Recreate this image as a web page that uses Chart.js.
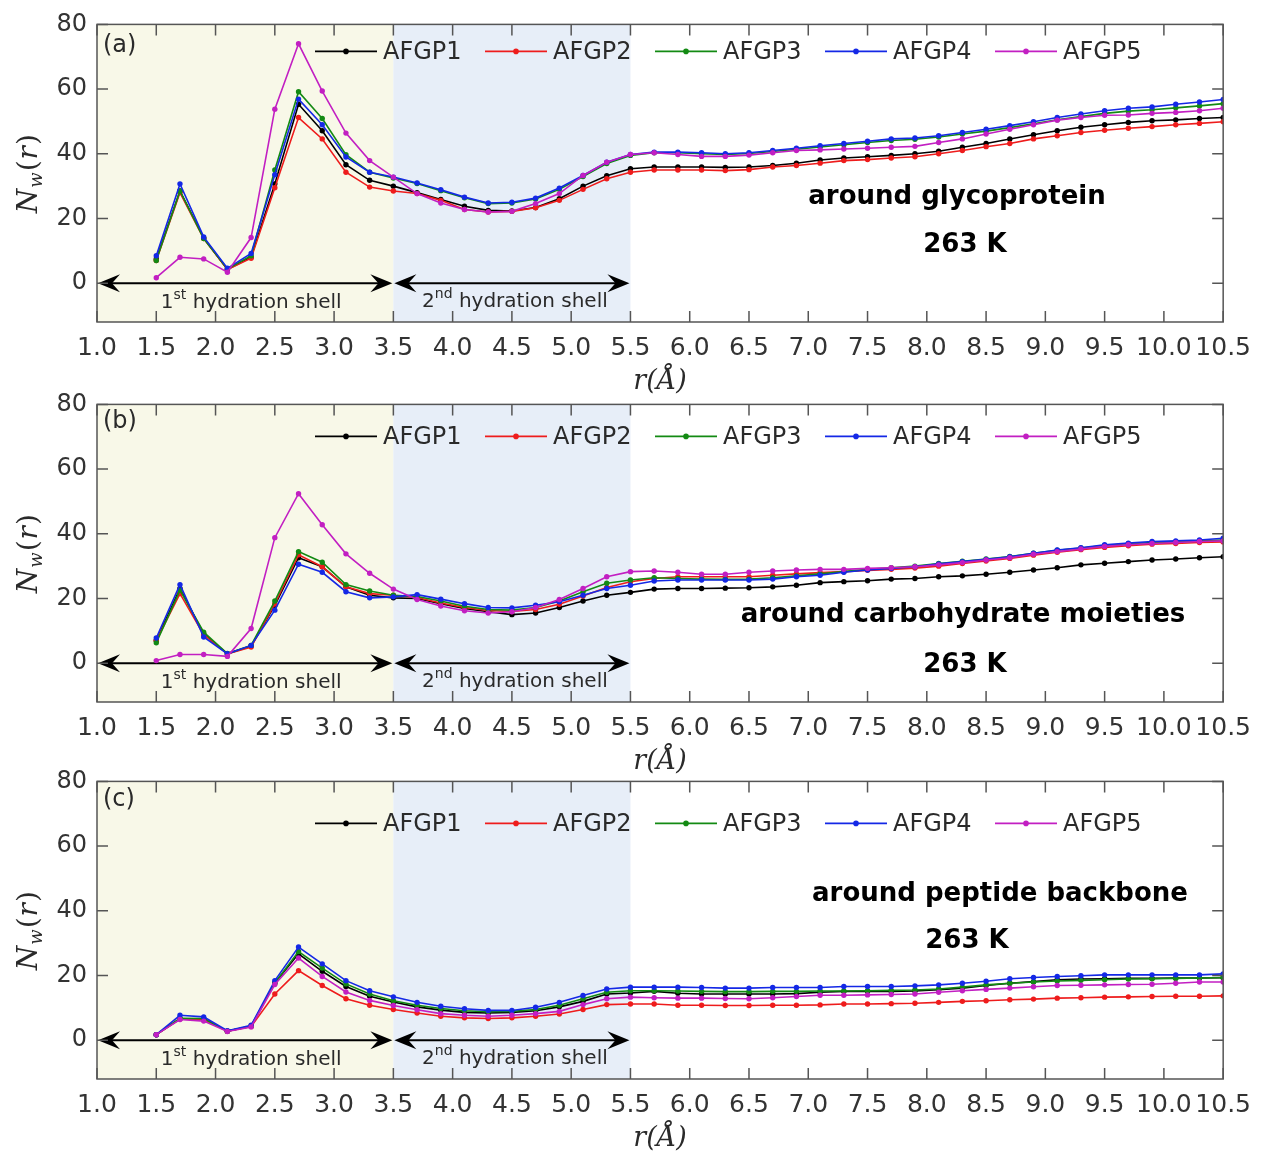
<!DOCTYPE html>
<html>
<head>
<meta charset="utf-8">
<title>Nw(r) around AFGP</title>
<script src="https://cdn.jsdelivr.net/npm/chart.js@4.4.1/dist/chart.umd.min.js"></script>
<style>
    body { margin: 0; background: #fff; }
    #wrap { position: relative; width: 1262px; height: 1156px; overflow: hidden; }
    .panel { position: absolute; left: 0; width: 1262px; height: 400px; }
    .panel canvas { display: block; }
</style>
</head>
<body>
<div id="wrap">
    <div class="panel" style="top:0px"><canvas id="chartA" width="1262" height="400"></canvas></div>
    <div class="panel" style="top:380px"><canvas id="chartB" width="1262" height="400"></canvas></div>
    <div class="panel" style="top:757px"><canvas id="chartC" width="1262" height="400"></canvas></div>
</div>
<script>
// distance r (Angstrom) of every sampled point
const rValues = [1.5, 1.7, 1.9, 2.1, 2.3, 2.5, 2.7, 2.9, 3.1, 3.3, 3.5, 3.7, 3.9, 4.1, 4.3, 4.5,
    4.7, 4.9, 5.1, 5.3, 5.5, 5.7, 5.9, 6.1, 6.3, 6.5, 6.7, 6.9, 7.1, 7.3, 7.5, 7.7, 7.9, 8.1,
    8.3, 8.5, 8.7, 8.9, 9.1, 9.3, 9.5, 9.7, 9.9, 10.1, 10.3, 10.5];

const xTicks = [1.0, 1.5, 2.0, 2.5, 3.0, 3.5, 4.0, 4.5, 5.0, 5.5, 6.0, 6.5, 7.0, 7.5, 8.0, 8.5, 9.0, 9.5, 10.0, 10.5];
const yTicks = [0, 20, 40, 60, 80];
const shellEdges = [1.0, 3.5, 5.5];
const seriesNames = ['AFGP1', 'AFGP2', 'AFGP3', 'AFGP4', 'AFGP5'];

// (a) around glycoprotein
const glycoAFGP1 = [7.5, 28.5, 14, 4.2, 8, 30.7, 55.3, 47.1, 36.6, 31.8, 30, 28, 25.9, 23.8, 22.5, 22.3,
    23.4, 26.1, 30, 33.2, 35.4, 35.9, 35.9, 35.9, 35.8, 35.9, 36.4, 37.1, 38.1, 38.7, 39.1, 39.5, 40, 40.8,
    42, 43.2, 44.6, 45.9, 47.1, 48.2, 49, 49.7, 50.2, 50.5, 50.9, 51.2];
const glycoAFGP2 = [7, 28, 13.8, 4.2, 7.7, 29.5, 51.2, 44.6, 34.3, 29.7, 28.5, 27.7, 25.6, 22.8, 22, 22.2,
    23.3, 25.6, 29, 32.3, 34.3, 35, 35, 35, 34.8, 35.1, 35.9, 36.4, 37.1, 37.9, 38.2, 38.7, 39.1, 40,
    41, 42.2, 43.2, 44.6, 45.6, 46.6, 47.3, 47.9, 48.4, 49, 49.4, 49.9];
const glycoAFGP3 = [7, 28.5, 13.8, 4.4, 8.5, 35, 59.2, 50.9, 39.7, 34.3, 32.5, 30.8, 28.6, 26.4, 24.6, 24.8,
    26, 29, 33, 37, 39.5, 40.3, 40.3, 40, 39.8, 40.1, 40.7, 41.4, 42.1, 42.8, 43.5, 44.1, 44.5, 45.2,
    46.1, 47, 48.1, 49.3, 50.5, 51.5, 52.5, 53.2, 53.6, 54.2, 54.8, 55.5];
const glycoAFGP4 = [8.5, 30.7, 14.3, 4.6, 9.2, 33.5, 56.9, 49, 39, 34.3, 32.8, 31, 28.9, 26.6, 24.8, 25,
    26.3, 29.4, 33.3, 37.4, 39.8, 40.5, 40.5, 40.3, 40, 40.3, 41, 41.7, 42.5, 43.2, 43.9, 44.6, 44.9, 45.6,
    46.6, 47.6, 48.7, 49.9, 51.2, 52.3, 53.3, 54.1, 54.5, 55.3, 56, 56.8];
const glycoAFGP5 = [1.7, 8, 7.5, 3.4, 14.1, 53.8, 74, 59.4, 46.4, 37.9, 32.8, 27.7, 24.8, 22.8, 22, 22.2,
    24.6, 27.7, 33.3, 37.4, 39.8, 40.3, 39.8, 39.2, 39.2, 39.6, 40.3, 41, 41.2, 41.5, 41.7, 42, 42.3, 43.5,
    44.6, 46.1, 47.6, 49, 50.4, 51.2, 51.9, 52, 52.5, 52.8, 53.3, 54.1];

// (b) around carbohydrate moieties
const carbAFGP1 = [7, 23.1, 9, 2.9, 5.3, 17.9, 32.6, 29.8, 23.6, 21, 20.2, 20, 18.4, 16.9, 15.9, 15,
    15.5, 17.2, 19.2, 21, 21.9, 22.9, 23.1, 23.1, 23.2, 23.3, 23.6, 24.1, 24.9, 25.2, 25.5, 26, 26.2, 26.7,
    27, 27.5, 28.1, 28.8, 29.5, 30.4, 30.9, 31.4, 31.9, 32.2, 32.6, 32.9];
const carbAFGP2 = [7, 21.5, 8.8, 2.9, 5, 18.3, 33.5, 29.8, 23.6, 21.5, 21, 20.3, 18.6, 17.2, 16.3, 16,
    16.6, 18.2, 20.8, 23.4, 25.2, 26.2, 26.7, 26.7, 26.7, 26.7, 27.2, 27.6, 28, 28.3, 28.7, 29, 29.4, 30,
    30.8, 31.6, 32.4, 33.4, 34.3, 35.1, 35.8, 36.3, 36.8, 37, 37.3, 37.5];
const carbAFGP3 = [6.3, 22.6, 9.6, 3, 5.5, 19.2, 34.5, 31.2, 24.3, 22.3, 21, 20.6, 19.2, 17.6, 16.6, 16.4,
    17.2, 19.2, 22.1, 24.7, 25.7, 26.4, 26.2, 26, 25.9, 26, 26.4, 27, 27.6, 28.3, 29, 29.5, 30, 30.8,
    31.5, 32.2, 33, 34, 34.9, 35.6, 36.4, 36.9, 37.3, 37.5, 37.8, 38.1];
const carbAFGP4 = [7.8, 24.3, 8.1, 2.9, 5.5, 16.4, 30.6, 28.1, 22.1, 20.2, 20.5, 21.2, 19.8, 18.4, 17.2, 17.1,
    17.9, 19, 21, 23.1, 24.1, 25.4, 25.7, 25.7, 25.7, 25.7, 26, 26.7, 27.2, 28.1, 28.8, 29.3, 29.8, 30.7,
    31.4, 32.1, 32.9, 34, 35, 35.7, 36.6, 37.1, 37.6, 37.8, 38.1, 38.6];
const carbAFGP5 = [0.8, 2.7, 2.7, 2.1, 10.7, 38.8, 52.4, 42.8, 33.8, 27.8, 22.9, 19.7, 17.7, 16.2, 15.5, 15.9,
    17.2, 19.7, 23.1, 26.7, 28.3, 28.5, 28.1, 27.5, 27.5, 28.1, 28.5, 28.8, 29, 29, 29.3, 29.5, 29.8, 30.4,
    31.1, 31.9, 32.6, 33.7, 34.5, 35.3, 36.1, 36.6, 37, 37.3, 37.6, 37.8];

// (c) around peptide backbone
const peptAFGP1 = [1.7, 6.6, 6.6, 2.8, 4.3, 17.7, 26.7, 21.3, 16.6, 13.6, 11.8, 10.3, 9.3, 8.6, 8.4, 8.6,
    9.1, 10.3, 12, 14.3, 14.6, 15.1, 14.5, 14.3, 14.3, 14.3, 14.3, 14.4, 14.8, 15.1, 15.1, 15.1, 15.2, 15.6,
    16.1, 16.9, 17.6, 18.1, 18.7, 18.9, 19, 19.1, 19.1, 19.2, 19.2, 19.3];
const peptAFGP2 = [1.7, 6.6, 6.4, 2.8, 4.2, 14.3, 21.5, 16.9, 12.8, 10.8, 9.5, 8.4, 7.4, 6.9, 6.7, 6.9,
    7.4, 8.1, 9.5, 11, 11.2, 11.2, 10.8, 10.8, 10.7, 10.7, 10.8, 10.8, 10.9, 11.2, 11.2, 11.3, 11.4, 11.7,
    12, 12.2, 12.5, 12.7, 13, 13.1, 13.3, 13.4, 13.5, 13.6, 13.6, 13.7];
const peptAFGP3 = [1.7, 6.8, 6.7, 2.8, 4.4, 17.7, 27.4, 22.3, 17.4, 14.3, 12.2, 10.8, 9.8, 9.1, 8.8, 8.9,
    9.5, 10.8, 12.8, 14.8, 15.3, 15.3, 15.2, 15.1, 15, 15, 15.1, 15.1, 15.2, 15.2, 15.3, 15.4, 15.5, 15.8,
    16.4, 17.1, 17.6, 18, 18.3, 18.5, 18.7, 18.9, 19, 19.1, 19.2, 19.4];
const peptAFGP4 = [1.7, 7.7, 7.2, 2.9, 4.6, 18.4, 28.8, 23.6, 18.4, 15.3, 13.4, 11.7, 10.5, 9.7, 9.2, 9.2,
    10.2, 11.7, 13.8, 15.8, 16.4, 16.4, 16.4, 16.3, 16.1, 16.1, 16.3, 16.3, 16.3, 16.6, 16.6, 16.6, 16.8, 17.1,
    17.6, 18.2, 19, 19.4, 19.7, 19.9, 20.2, 20.2, 20.2, 20.2, 20.2, 20.5];
const peptAFGP5 = [1.7, 6.4, 5.9, 2.7, 4.1, 17.2, 25.4, 19.7, 14.9, 12.3, 10.7, 9.4, 8.2, 7.7, 7.4, 7.7,
    8.2, 8.9, 11, 12.8, 13.3, 13.1, 13, 13, 12.9, 12.8, 13.1, 13.5, 13.9, 13.9, 14, 14.1, 14.3, 14.8,
    15.3, 15.7, 16.1, 16.5, 16.9, 17, 17.1, 17.2, 17.3, 17.6, 18, 18];

const seriesColors = ['#000000', '#ee1c1c', '#138a13', '#1428e6', '#c21fc2'];
const shellFills = ['#f8f8e8', '#e7eef8'];
const textColor = '#2a2a2a';

Chart.defaults.font.family = 'DejaVu Sans';
Chart.defaults.color = textColor;

function drawArrowHead(ctx, tipX, y, dir) {
    // stealth-like head, dir = -1 points left, +1 points right
    ctx.beginPath();
    ctx.moveTo(tipX, y);
    ctx.lineTo(tipX - dir * 22, y - 9);
    ctx.lineTo(tipX - dir * 14, y);
    ctx.lineTo(tipX - dir * 22, y + 9);
    ctx.closePath();
    ctx.fill();
}

function drawShellLabel(ctx, cx, cy, num, sup) {
    const big = '20px DejaVu Sans', small = '14px DejaVu Sans';
    const rest = ' hydration shell';
    ctx.font = big;
    const wNum = ctx.measureText(num).width, wRest = ctx.measureText(rest).width;
    ctx.font = small;
    const wSup = ctx.measureText(sup).width;
    let x = cx - (wNum + wSup + wRest) / 2;
    ctx.textBaseline = 'middle';
    ctx.textAlign = 'left';
    ctx.font = big;
    ctx.fillText(num, x, cy);
    x += wNum;
    ctx.font = small;
    ctx.fillText(sup, x, cy - 8);
    x += wSup;
    ctx.font = big;
    ctx.fillText(rest, x, cy);
}

const panelDecor = {
    id: 'panelDecor',
    beforeDatasetsDraw(chart) {
        const {ctx, chartArea: a, scales: {x, y}} = chart;
        ctx.save();
        // hydration shell bands
        for (let i = 0; i < shellEdges.length - 1; i++) {
            const x0 = x.getPixelForValue(shellEdges[i]);
            const x1 = x.getPixelForValue(shellEdges[i + 1]);
            ctx.fillStyle = shellFills[i];
            ctx.fillRect(x0, a.top, x1 - x0, a.bottom - a.top);
        }
        // double arrows on the zero line
        const y0 = y.getPixelForValue(0);
        ctx.strokeStyle = '#000';
        ctx.fillStyle = '#000';
        ctx.lineWidth = 2;
        for (let i = 0; i < shellEdges.length - 1; i++) {
            const x0 = x.getPixelForValue(shellEdges[i]);
            const x1 = x.getPixelForValue(shellEdges[i + 1]);
            ctx.beginPath();
            ctx.moveTo(x0 + 14, y0);
            ctx.lineTo(x1 - 14, y0);
            ctx.stroke();
            drawArrowHead(ctx, x0 + 1, y0, -1);
            drawArrowHead(ctx, x1 - 1, y0, 1);
        }
        ctx.fillStyle = textColor;
        const m1 = (x.getPixelForValue(shellEdges[0]) + x.getPixelForValue(shellEdges[1])) / 2;
        const m2 = (x.getPixelForValue(shellEdges[1]) + x.getPixelForValue(shellEdges[2])) / 2;
        drawShellLabel(ctx, m1 + 6, y0 + 20, '1', 'st');
        drawShellLabel(ctx, m2 + 3, y0 + 19, '2', 'nd');
        ctx.restore();
    },
    afterDraw(chart, args, opts) {
        const {ctx, chartArea: a, scales: {x, y}} = chart;
        ctx.save();
        // frame and inward ticks
        ctx.strokeStyle = '#555';
        ctx.lineWidth = 1.5;
        ctx.strokeRect(a.left, a.top, a.right - a.left, a.bottom - a.top);
        ctx.beginPath();
        x.ticks.forEach(t => {
            const px = x.getPixelForValue(t.value);
            ctx.moveTo(px, a.top); ctx.lineTo(px, a.top + 11);
            ctx.moveTo(px, a.bottom); ctx.lineTo(px, a.bottom - 11);
        });
        y.ticks.forEach(t => {
            const py = y.getPixelForValue(t.value);
            ctx.moveTo(a.left, py); ctx.lineTo(a.left + 11, py);
            ctx.moveTo(a.right, py); ctx.lineTo(a.right - 11, py);
        });
        ctx.stroke();

        // legend inside the plot
        const ly = a.top + opts.legendDy;
        chart.data.datasets.forEach((ds, i) => {
            const lx = 315 + i * 170;
            ctx.strokeStyle = ds.borderColor;
            ctx.fillStyle = ds.borderColor;
            ctx.lineWidth = 1.6;
            ctx.beginPath();
            ctx.moveTo(lx, ly); ctx.lineTo(lx + 62, ly);
            ctx.stroke();
            ctx.beginPath();
            ctx.arc(lx + 31, ly, 2.8, 0, Math.PI * 2);
            ctx.fill();
            ctx.fillStyle = textColor;
            ctx.font = '24px DejaVu Sans';
            ctx.textAlign = 'left';
            ctx.textBaseline = 'middle';
            ctx.fillText(ds.label, lx + 68, ly + 1);
        });

        // panel letter
        ctx.fillStyle = textColor;
        ctx.font = '24px DejaVu Sans';
        ctx.textAlign = 'left';
        ctx.textBaseline = 'middle';
        ctx.fillText(opts.letter, a.left + 6, a.top + opts.letterDy);

        // region / temperature notes
        ctx.fillStyle = '#000';
        ctx.font = 'bold 26px DejaVu Sans';
        ctx.textAlign = 'center';
        opts.notes.forEach(n => ctx.fillText(n.text, n.x, n.y));

        // y title N_w(r)
        ctx.translate(30, (a.top + a.bottom) / 2);
        ctx.rotate(-Math.PI / 2);
        const parts = [
            {t: 'N', f: 'italic 28px DejaVu Serif', dy: 0},
            {t: 'w', f: 'italic 18px DejaVu Serif', dy: 7},
            {t: '(', f: '28px DejaVu Serif', dy: 0},
            {t: 'r', f: 'italic 28px DejaVu Serif', dy: 0},
            {t: ')', f: '28px DejaVu Serif', dy: 0}
        ];
        let total = 0;
        parts.forEach(p => { ctx.font = p.f; p.w = ctx.measureText(p.t).width + 1; total += p.w; });
        let tx = -total / 2;
        ctx.fillStyle = textColor;
        ctx.textAlign = 'left';
        ctx.textBaseline = 'middle';
        parts.forEach(p => { ctx.font = p.f; ctx.fillText(p.t, tx, p.dy); tx += p.w; });
        ctx.restore();
    }
};

function makePanel(canvasId, series, letter, letterDy, legendDy, notes) {
    new Chart(document.getElementById(canvasId), {
        type: 'line',
        data: {
            datasets: series.map((vals, i) => ({
                label: seriesNames[i],
                data: vals.map((v, k) => ({x: rValues[k], y: v})),
                borderColor: seriesColors[i],
                backgroundColor: seriesColors[i],
                borderWidth: 1.6,
                pointRadius: 2.7,
                pointBorderWidth: 0,
                tension: 0,
                order: 4 - i
            }))
        },
        options: {
            responsive: false,
            animation: false,
            layout: {padding: {top: 24, right: 32, bottom: 0, left: 0}},
            plugins: {
                legend: {display: false},
                tooltip: {enabled: false},
                panelDecor: {letter: letter, letterDy: letterDy, legendDy: legendDy, notes: notes}
            },
            scales: {
                x: {
                    type: 'linear',
                    min: 1.0,
                    max: 10.5,
                    afterFit: s => { s.height = 78; },
                    afterBuildTicks: s => { s.ticks = xTicks.map(v => ({value: v})); },
                    grid: {display: false, drawTicks: false},
                    border: {display: false},
                    ticks: {
                        padding: 11,
                        color: '#333',
                        font: {size: 25},
                        maxRotation: 0,
                        autoSkip: false,
                        callback: v => v.toFixed(1)
                    },
                    title: {
                        display: true,
                        text: 'r(Å)',
                        color: textColor,
                        font: {family: 'DejaVu Serif', style: 'italic', size: 27},
                        padding: {top: 0, bottom: 2}
                    }
                },
                y: {
                    min: -12,
                    max: 80,
                    afterFit: s => { s.width = 97; },
                    afterBuildTicks: s => { s.ticks = yTicks.map(v => ({value: v})); },
                    grid: {display: false, drawTicks: false},
                    border: {display: false},
                    ticks: {padding: 10, color: '#333', font: {size: 24}}
                }
            }
        },
        plugins: [panelDecor]
    });
}

makePanel('chartA', [glycoAFGP1, glycoAFGP2, glycoAFGP3, glycoAFGP4, glycoAFGP5], '(a)', 21, 27, [
    {text: 'around glycoprotein', x: 957, y: 197},
    {text: '263 K', x: 965, y: 245}
]);
makePanel('chartB', [carbAFGP1, carbAFGP2, carbAFGP3, carbAFGP4, carbAFGP5], '(b)', 17, 32, [
    {text: 'around carbohydrate moieties', x: 963, y: 235},
    {text: '263 K', x: 965, y: 285}
]);
makePanel('chartC', [peptAFGP1, peptAFGP2, peptAFGP3, peptAFGP4, peptAFGP5], '(c)', 18, 42, [
    {text: 'around peptide backbone', x: 1000, y: 137},
    {text: '263 K', x: 967, y: 184}
]);
</script>
</body>
</html>
